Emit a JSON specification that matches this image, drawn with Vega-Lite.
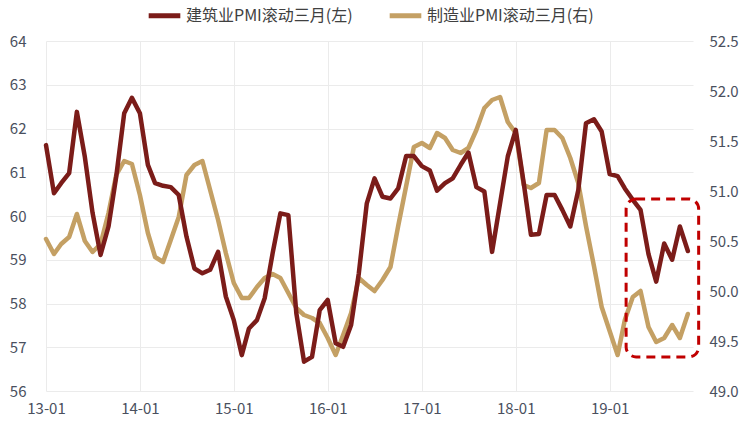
{
  "$schema": "https://vega.github.io/schema/vega-lite/v6.json",
  "width": 647,
  "height": 350,
  "autosize": {"type": "none"},
  "padding": {"left": 46, "top": 41, "right": 57, "bottom": 43},
  "background": "white",
  "config": {
    "font": "Noto Sans CJK SC",
    "view": {"stroke": null},
    "axis": {"labelFontSize": 15, "labelColor": "#4A505E", "domain": false, "ticks": false, "tickSize": 0, "gridColor": "#EBEBEB", "gridWidth": 1, "labelFont": "Noto Sans CJK SC"}
  },
  "data": {
    "format": {"parse": {"date": "utc:'%Y-%m'"}},
    "values": [
      {"date": "2013-01", "c": 61.62, "t": 50.52},
      {"date": "2013-02", "c": 60.52, "t": 50.37},
      {"date": "2013-03", "c": 60.75, "t": 50.47},
      {"date": "2013-04", "c": 60.98, "t": 50.54},
      {"date": "2013-05", "c": 62.38, "t": 50.77},
      {"date": "2013-06", "c": 61.35, "t": 50.5},
      {"date": "2013-07", "c": 60.07, "t": 50.39},
      {"date": "2013-08", "c": 59.11, "t": 50.47},
      {"date": "2013-09", "c": 59.76, "t": 50.78},
      {"date": "2013-10", "c": 60.9, "t": 51.16},
      {"date": "2013-11", "c": 62.35, "t": 51.3},
      {"date": "2013-12", "c": 62.7, "t": 51.27},
      {"date": "2014-01", "c": 62.35, "t": 50.96},
      {"date": "2014-02", "c": 61.17, "t": 50.58},
      {"date": "2014-03", "c": 60.75, "t": 50.34},
      {"date": "2014-04", "c": 60.69, "t": 50.29},
      {"date": "2014-05", "c": 60.66, "t": 50.51},
      {"date": "2014-06", "c": 60.48, "t": 50.74},
      {"date": "2014-07", "c": 59.53, "t": 51.16},
      {"date": "2014-08", "c": 58.8, "t": 51.26},
      {"date": "2014-09", "c": 58.69, "t": 51.3},
      {"date": "2014-10", "c": 58.77, "t": 51.01},
      {"date": "2014-11", "c": 59.18, "t": 50.71},
      {"date": "2014-12", "c": 58.16, "t": 50.38},
      {"date": "2015-01", "c": 57.62, "t": 50.08},
      {"date": "2015-02", "c": 56.82, "t": 49.93},
      {"date": "2015-03", "c": 57.43, "t": 49.93},
      {"date": "2015-04", "c": 57.62, "t": 50.04},
      {"date": "2015-05", "c": 58.12, "t": 50.13},
      {"date": "2015-06", "c": 59.15, "t": 50.17},
      {"date": "2015-07", "c": 60.06, "t": 50.13},
      {"date": "2015-08", "c": 60.02, "t": 49.98},
      {"date": "2015-09", "c": 57.78, "t": 49.83},
      {"date": "2015-10", "c": 56.67, "t": 49.76},
      {"date": "2015-11", "c": 56.78, "t": 49.73},
      {"date": "2015-12", "c": 57.85, "t": 49.68},
      {"date": "2016-01", "c": 58.08, "t": 49.53},
      {"date": "2016-02", "c": 57.09, "t": 49.36},
      {"date": "2016-03", "c": 57.01, "t": 49.56},
      {"date": "2016-04", "c": 57.51, "t": 49.78},
      {"date": "2016-05", "c": 58.69, "t": 50.13},
      {"date": "2016-06", "c": 60.29, "t": 50.06},
      {"date": "2016-07", "c": 60.86, "t": 50.0},
      {"date": "2016-08", "c": 60.44, "t": 50.11},
      {"date": "2016-09", "c": 60.4, "t": 50.24},
      {"date": "2016-10", "c": 60.63, "t": 50.65},
      {"date": "2016-11", "c": 61.37, "t": 51.05},
      {"date": "2016-12", "c": 61.37, "t": 51.44},
      {"date": "2017-01", "c": 61.14, "t": 51.48},
      {"date": "2017-02", "c": 61.04, "t": 51.43},
      {"date": "2017-03", "c": 60.58, "t": 51.58},
      {"date": "2017-04", "c": 60.75, "t": 51.53},
      {"date": "2017-05", "c": 60.86, "t": 51.41},
      {"date": "2017-06", "c": 61.17, "t": 51.38},
      {"date": "2017-07", "c": 61.45, "t": 51.43},
      {"date": "2017-08", "c": 60.66, "t": 51.61},
      {"date": "2017-09", "c": 60.56, "t": 51.83},
      {"date": "2017-10", "c": 59.18, "t": 51.91},
      {"date": "2017-11", "c": 60.29, "t": 51.94},
      {"date": "2017-12", "c": 61.36, "t": 51.69},
      {"date": "2018-01", "c": 61.97, "t": 51.58},
      {"date": "2018-02", "c": 60.75, "t": 51.06},
      {"date": "2018-03", "c": 59.57, "t": 51.03},
      {"date": "2018-04", "c": 59.59, "t": 51.08},
      {"date": "2018-05", "c": 60.48, "t": 51.61},
      {"date": "2018-06", "c": 60.48, "t": 51.61},
      {"date": "2018-07", "c": 60.14, "t": 51.53},
      {"date": "2018-08", "c": 59.76, "t": 51.33},
      {"date": "2018-09", "c": 60.59, "t": 51.08},
      {"date": "2018-10", "c": 62.12, "t": 50.65},
      {"date": "2018-11", "c": 62.21, "t": 50.25},
      {"date": "2018-12", "c": 61.93, "t": 49.84},
      {"date": "2019-01", "c": 60.96, "t": 49.6},
      {"date": "2019-02", "c": 60.91, "t": 49.36},
      {"date": "2019-03", "c": 60.63, "t": 49.71},
      {"date": "2019-04", "c": 60.37, "t": 49.94},
      {"date": "2019-05", "c": 60.14, "t": 50.0},
      {"date": "2019-06", "c": 59.13, "t": 49.64},
      {"date": "2019-07", "c": 58.5, "t": 49.49},
      {"date": "2019-08", "c": 59.37, "t": 49.53},
      {"date": "2019-09", "c": 59.0, "t": 49.66},
      {"date": "2019-10", "c": 59.76, "t": 49.53},
      {"date": "2019-11", "c": 59.2, "t": 49.77}
    ]
  },
  "encoding": {
    "x": {
      "field": "date",
      "type": "temporal",
      "title": null,
      "scale": {
        "type": "utc",
        "nice": false,
        "domain": [
          {"year": 2013, "month": 1, "date": 1, "utc": true},
          {"year": 2019, "month": 11, "date": 21, "utc": true}
        ]
      },
      "axis": {
        "grid": true,
        "labelExpr": "utcFormat(datum.value, '%y-%m')",
        "labelPadding": 10,
        "labelFlush": false,
        "values": [
          {"year": 2013, "month": 1, "date": 1, "utc": true},
          {"year": 2014, "month": 1, "date": 1, "utc": true},
          {"year": 2015, "month": 1, "date": 1, "utc": true},
          {"year": 2016, "month": 1, "date": 1, "utc": true},
          {"year": 2017, "month": 1, "date": 1, "utc": true},
          {"year": 2018, "month": 1, "date": 1, "utc": true},
          {"year": 2019, "month": 1, "date": 1, "utc": true}
        ]
      }
    }
  },
  "layer": [
    {
      "mark": {"type": "line", "strokeWidth": 4.5, "strokeJoin": "round", "strokeCap": "round"},
      "encoding": {
        "y": {
          "field": "t",
          "type": "quantitative",
          "title": null,
          "scale": {"domain": [49, 52.5], "zero": false, "nice": false},
          "axis": {"orient": "right", "grid": false, "format": ".1f", "labelPadding": 16, "values": [49, 49.5, 50, 50.5, 51, 51.5, 52, 52.5]}
        },
        "color": {
          "datum": "制造业PMI滚动三月(右)",
          "scale": {"domain": ["建筑业PMI滚动三月(左)", "制造业PMI滚动三月(右)"], "range": ["#7B1C19", "#C4A064"]},
          "legend": {
            "orient": "none",
            "legendX": 100,
            "legendY": -44,
            "direction": "horizontal",
            "title": null,
            "symbolType": "stroke",
            "symbolStrokeWidth": 5,
            "symbolSize": 1000,
            "labelFontSize": 16,
            "labelLimit": 400,
            "labelColor": "#404040",
            "labelFont": "Noto Sans CJK SC",
            "labelOffset": 3,
            "columnPadding": 26
          }
        }
      }
    },
    {
      "layer": [
        {
          "mark": {"type": "line", "strokeWidth": 4.5, "strokeJoin": "round", "strokeCap": "round"},
          "encoding": {
            "y": {
              "field": "c",
              "type": "quantitative",
              "title": null,
              "scale": {"domain": [56, 64], "zero": false, "nice": false},
              "axis": {"orient": "left", "grid": true, "labelPadding": 20, "values": [56, 57, 58, 59, 60, 61, 62, 63, 64]}
            },
            "color": {"datum": "建筑业PMI滚动三月(左)"}
          }
        },
        {
          "data": {"values": [{"start": "2019-03-06", "end": "2019-12-13", "top": 60.39, "bottom": 56.78}]},
          "mark": {"type": "rect", "fillOpacity": 0, "stroke": "#C00000", "strokeWidth": 3, "strokeDash": [9, 6], "cornerRadius": 10},
          "encoding": {
            "x": {"field": "start", "type": "temporal"},
            "x2": {"field": "end"},
            "y": {"field": "top", "type": "quantitative", "title": null},
            "y2": {"field": "bottom"}
          }
        }
      ]
    }
  ],
  "resolve": {"scale": {"y": "independent"}}
}
